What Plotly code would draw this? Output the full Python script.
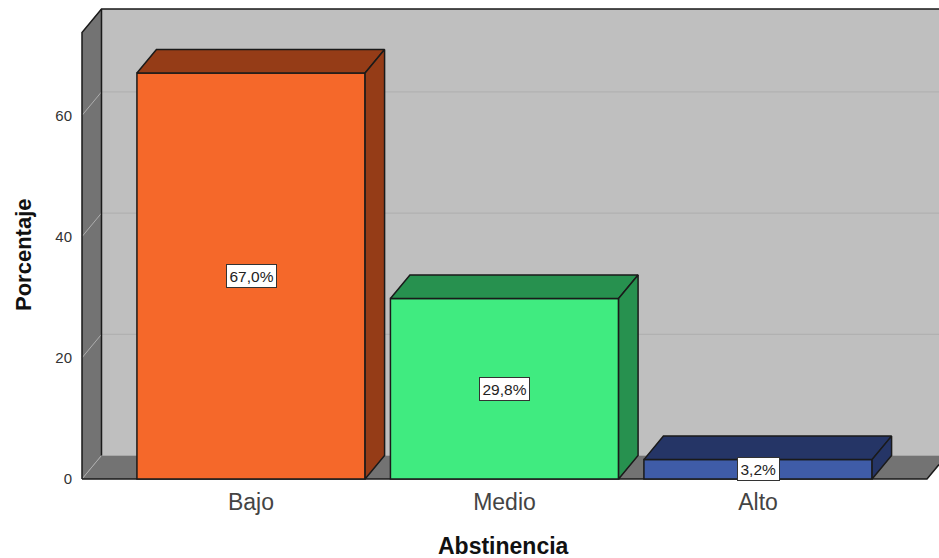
import plotly.graph_objects as go

categories = ["Bajo", "Medio", "Alto"]
percentages = [67.0, 29.8, 3.2]
value_labels = ["67,0%", "29,8%", "3,2%"]
y_ticks = [0, 20, 40, 60]
x_title = "Abstinencia"
y_title = "Porcentaje"

front_colors = ["#f5682a", "#40eb80", "#3f5ca8"]
shade_colors = ["#953c17", "#27914f", "#253566"]
WALL = "#bfbfbf"
SIDE = "#737373"
EDGE = "#1a1a1a"
GRID = "#aeaeae"
FONT = "Liberation Sans, Arial, sans-serif"

W, H = 939, 558
PX_X0, PX_Y0 = 251.0, 479.0      # pixel of first category / of value 0
SX, SY = 253.5, 6.06             # pixels per unit
L, R, T, B = 76, 939, 4, 485     # plot rectangle in pixels
BAR_W = 0.9
DX, DY = 19.5 / SX, 23.5 / SY    # depth offset in data units
FL, FR = (82 - PX_X0) / SX, (927 - PX_X0) / SX
TOP = (PX_Y0 - 9) / SY
XR = [(L - PX_X0) / SX, (R - PX_X0) / SX]
YR = [(PX_Y0 - B) / SY, (PX_Y0 - T) / SY]
xs = list(range(len(categories)))


def poly(pts):
    return "M" + " L".join(f"{x},{y}" for x, y in pts) + " Z"


shapes = [
    dict(type="path", layer="below", path=poly([(FL + DX, DY), (FR + DX, DY), (FR + DX, TOP), (FL + DX, TOP)]),
         fillcolor=WALL, line=dict(width=0)),
    dict(type="path", layer="below", path=poly([(FL, 0), (FR, 0), (FR + DX, DY), (FL + DX, DY)]),
         fillcolor=SIDE, line=dict(width=0)),
    dict(type="path", layer="below", path=poly([(FL, 0), (FL + DX, DY), (FL + DX, TOP), (FL, TOP - DY)]),
         fillcolor=SIDE, line=dict(width=0)),
]
for v in y_ticks:
    if v:
        shapes.append(dict(type="line", layer="below", x0=FL + DX, x1=XR[1], y0=v + DY, y1=v + DY,
                           line=dict(color=GRID, width=1)))
    shapes.append(dict(type="line", layer="below", x0=FL, x1=FL + DX, y0=v, y1=v + DY,
                       line=dict(color=GRID, width=1)))
for p in ([(FL, 0), (FL, TOP - DY), (FL + DX, TOP), (XR[1], TOP)],
          [(FL + DX, TOP), (FL + DX, DY)],
          [(FL, 0), (FR, 0), (XR[1], (XR[1] - FR) / DX * DY)]):
    shapes.append(dict(type="path", layer="below",
                       path="M" + " L".join(f"{x},{y}" for x, y in p),
                       line=dict(color=EDGE, width=1.5)))

fig = go.Figure()
fig.add_bar(x=xs, y=percentages, width=BAR_W, marker=dict(color=front_colors, line=dict(color=EDGE, width=1.5)),
            cliponaxis=False, hoverinfo="skip", showlegend=False)

for x, v, c in zip(xs, percentages, shade_colors):
    a, b = x - BAR_W / 2, x + BAR_W / 2
    for px, py in (([a, b, b + DX, a + DX, a], [v, v, v + DY, v + DY, v]),
                   ([b, b + DX, b + DX, b, b], [0, DY, v + DY, v, 0])):
        fig.add_scatter(x=px, y=py, mode="lines", fill="toself", fillcolor=c,
                        line=dict(color=EDGE, width=1.5), hoverinfo="skip", showlegend=False)

for x, v, t in zip(xs, percentages, value_labels):
    fig.add_annotation(x=x, y=v / 2, text=t, showarrow=False, bgcolor="white",
                       bordercolor="#333333", borderwidth=1, borderpad=2.5,
                       font=dict(family=FONT, size=15.5, color="#222222"))

fig.add_annotation(xref="paper", yref="paper", x=(503.5 - L) / (R - L), y=(B - 546) / (B - T),
                   text=f"<b>{x_title}</b>", showarrow=False, xanchor="center", yanchor="middle",
                   font=dict(family=FONT, size=23, color="#111111"))
fig.add_annotation(xref="paper", yref="paper", x=(23 - L) / (R - L), y=(B - 255) / (B - T),
                   text=f"<b>{y_title}</b>", showarrow=False, textangle=-90, xanchor="center", yanchor="middle",
                   font=dict(family=FONT, size=22, color="#111111"))

fig.update_layout(
    width=W, height=H, margin=dict(l=L, r=W - R, t=T, b=H - B),
    paper_bgcolor="white", plot_bgcolor="white", shapes=shapes, showlegend=False,
    xaxis=dict(range=XR, tickmode="array", tickvals=xs, ticktext=categories, showgrid=False, zeroline=False,
               showline=False, ticks="", tickfont=dict(family=FONT, size=23, color="#444444"),
               ticklabelstandoff=1),
    yaxis=dict(range=YR, tickmode="array", tickvals=y_ticks, showgrid=False, zeroline=False,
               showline=False, ticks="", tickfont=dict(family=FONT, size=15, color="#333333"),
               ticklabelstandoff=3),
)

fig.write_html("out.html", config={"displayModeBar": False},
               post_script="document.body.style.margin='0';document.body.style.overflow='hidden';")
